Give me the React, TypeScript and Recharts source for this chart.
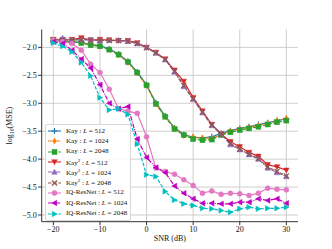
import React from "react";
import { LineChart, Line, XAxis, YAxis, CartesianGrid, Legend } from "recharts";

const snr = [-20, -18, -16, -14, -12, -10, -8, -6, -4, -2, 0, 2, 4, 6, 8, 10, 12, 14, 16, 18, 20, 22, 24, 26, 28, 30];

const kay512 = [-1.88, -1.89, -1.9, -1.91, -1.95, -1.97, -2.03, -2.12, -2.25, -2.44, -2.67, -2.99, -3.23, -3.44, -3.56, -3.61, -3.62, -3.6, -3.54, -3.49, -3.45, -3.42, -3.38, -3.35, -3.31, -3.28];
const kay1024 = [-1.87, -1.88, -1.9, -1.92, -1.95, -1.98, -2.04, -2.13, -2.27, -2.46, -2.68, -3.01, -3.24, -3.45, -3.58, -3.6, -3.62, -3.63, -3.56, -3.5, -3.46, -3.43, -3.4, -3.36, -3.31, -3.27];
const kay2048 = [-1.87, -1.89, -1.9, -1.92, -1.96, -1.98, -2.04, -2.13, -2.26, -2.45, -2.68, -3.01, -3.24, -3.46, -3.57, -3.64, -3.66, -3.65, -3.57, -3.52, -3.48, -3.45, -3.42, -3.38, -3.34, -3.31];

const kaySq512 = [-1.86, -1.87, -1.86, -1.83, -1.87, -1.86, -1.87, -1.88, -1.88, -1.92, -2.0, -2.09, -2.21, -2.41, -2.61, -2.9, -3.14, -3.38, -3.55, -3.69, -3.78, -3.88, -3.95, -4.1, -4.14, -4.2];
const kaySq1024 = [-1.87, -1.83, -1.87, -1.86, -1.86, -1.88, -1.87, -1.87, -1.89, -1.93, -2.0, -2.1, -2.22, -2.44, -2.7, -2.93, -3.17, -3.4, -3.55, -3.74, -3.83, -3.92, -4.0, -4.16, -4.24, -4.31];
const kaySq2048 = [-1.87, -1.86, -1.87, -1.86, -1.87, -1.87, -1.88, -1.88, -1.89, -1.93, -2.01, -2.1, -2.22, -2.43, -2.68, -2.92, -3.16, -3.39, -3.55, -3.72, -3.82, -3.91, -3.99, -4.14, -4.22, -4.3];

const iq512 = [-1.87, -1.9, -1.93, -2.05, -2.3, -2.45, -2.75, -3.1, -3.14, -3.18, -3.6, -4.16, -4.22, -4.27, -4.37, -4.47, -4.61, -4.57, -4.63, -4.61, -4.62, -4.65, -4.61, -4.52, -4.54, -4.55];
const iq1024 = [-1.9, -1.93, -2.05, -2.21, -2.37, -2.67, -3.0, -3.1, -3.06, -3.64, -3.97, -4.15, -4.24, -4.48, -4.61, -4.71, -4.79, -4.79, -4.8, -4.8, -4.77, -4.77, -4.71, -4.74, -4.71, -4.79];
const iq2048 = [-1.92, -1.98, -2.08, -2.27, -2.51, -2.9, -3.12, -3.1, -3.2, -3.73, -4.28, -4.31, -4.58, -4.73, -4.8, -4.83, -4.88, -4.89, -4.92, -4.95, -4.89, -4.86, -4.89, -4.88, -4.88, -4.86];

const xTicks = [-20, -10, 0, 10, 20, 30];
const yTicks = [-5, -4.5, -4, -3.5, -3, -2.5, -2];

const FONT = "'Liberation Serif', 'DejaVu Serif', serif";
const SOLID = undefined;
const DASHDOT = "4.5 1.2 0.9 1.2";
const DASHED = "3.6 1.6";

const series = [
  { key: "kay512", values: kay512, base: "Kay", sup: "", L: 512, color: "#1f77b4", shape: "plus", dash: SOLID },
  { key: "kay1024", values: kay1024, base: "Kay", sup: "", L: 1024, color: "#ff7f0e", shape: "diamond", dash: DASHDOT },
  { key: "kay2048", values: kay2048, base: "Kay", sup: "", L: 2048, color: "#2ca02c", shape: "square", dash: DASHED },
  { key: "kaySq512", values: kaySq512, base: "Kay", sup: "2", L: 512, color: "#d62728", shape: "down", dash: SOLID },
  { key: "kaySq1024", values: kaySq1024, base: "Kay", sup: "2", L: 1024, color: "#9467bd", shape: "up", dash: DASHDOT },
  { key: "kaySq2048", values: kaySq2048, base: "Kay", sup: "2", L: 2048, color: "#8c564b", shape: "x", dash: DASHED },
  { key: "iq512", values: iq512, base: "IQ-ResNet", sup: "", L: 512, color: "#e377c2", shape: "circle", dash: SOLID },
  { key: "iq1024", values: iq1024, base: "IQ-ResNet", sup: "", L: 1024, color: "#bf00bf", shape: "left", dash: DASHDOT },
  { key: "iq2048", values: iq2048, base: "IQ-ResNet", sup: "", L: 2048, color: "#00bfbf", shape: "right", dash: DASHED },
];

const data = snr.map((s, i) => {
  const row: Record<string, number> = { snr: s };
  series.forEach((sr) => {
    row[sr.key] = sr.values[i];
  });
  return row;
});

const Marker = ({ shape, cx, cy, color, size = 5 }: any) => {
  const r = size / 2;
  if (cx == null || cy == null) return null;
  switch (shape) {
    case "plus":
      return <path d={`M${cx - r * 1.2},${cy}H${cx + r * 1.2}M${cx},${cy - r * 1.2}V${cy + r * 1.2}`} stroke={color} strokeWidth={1.2} fill="none" />;
    case "diamond":
      return <polygon points={`${cx},${cy - r * 1.2} ${cx + r * 0.7},${cy} ${cx},${cy + r * 1.2} ${cx - r * 0.7},${cy}`} fill={color} stroke={color} strokeWidth={0.5} />;
    case "square":
      return <rect x={cx - r} y={cy - r} width={size} height={size} fill={color} stroke={color} strokeWidth={0.5} />;
    case "down":
      return <polygon points={`${cx - r * 1.1},${cy - r * 0.9} ${cx + r * 1.1},${cy - r * 0.9} ${cx},${cy + r * 1.1}`} fill={color} stroke={color} strokeWidth={0.5} />;
    case "up":
      return <polygon points={`${cx - r * 1.1},${cy + r * 0.9} ${cx + r * 1.1},${cy + r * 0.9} ${cx},${cy - r * 1.1}`} fill={color} stroke={color} strokeWidth={0.5} />;
    case "left":
      return <polygon points={`${cx + r * 0.9},${cy - r * 1.1} ${cx + r * 0.9},${cy + r * 1.1} ${cx - r * 1.1},${cy}`} fill={color} stroke={color} strokeWidth={0.5} />;
    case "right":
      return <polygon points={`${cx - r * 0.9},${cy - r * 1.1} ${cx - r * 0.9},${cy + r * 1.1} ${cx + r * 1.1},${cy}`} fill={color} stroke={color} strokeWidth={0.5} />;
    case "x":
      return <path d={`M${cx - r},${cy - r}L${cx + r},${cy + r}M${cx - r},${cy + r}L${cx + r},${cy - r}`} stroke={color} strokeWidth={1.2} fill="none" />;
    default:
      return <circle cx={cx} cy={cy} r={r} fill={color} stroke={color} strokeWidth={0.5} />;
  }
};

const fmt = (v: number) => v.toFixed(1).replace("-", "\u2212");

const LegendBox = () => (
  <div
    style={{
      border: "1px solid #d8d8d8",
      borderRadius: 2,
      background: "rgba(255,255,255,0.85)",
      padding: "1px 3px 1px 2px",
      fontFamily: FONT,
      fontSize: 7,
      color: "#111",
      lineHeight: 1,
    }}
  >
    {series.map((s) => (
      <div key={s.key} style={{ display: "flex", alignItems: "center", height: 10.3 }}>
        <svg width={13} height={8} style={{ flex: "none" }}>
          <line x1={0} y1={4} x2={13} y2={4} stroke={s.color} strokeWidth={1.1} strokeDasharray={s.dash} />
          <Marker shape={s.shape} cx={6.5} cy={4} color={s.color} />
        </svg>
        <span style={{ marginLeft: 5, whiteSpace: "nowrap" }}>
          {s.base}
          {s.sup ? <sup style={{ fontSize: 5, verticalAlign: "3px" }}>{s.sup}</sup> : null}
          {" : "}
          <i>L</i>
          {` = ${s.L}`}
        </span>
      </div>
    ))}
  </div>
);

const YLabel = () => (
  <text transform="translate(12,125.6) rotate(-90)" textAnchor="middle" fontSize={8} fontFamily={FONT} fill="#111">
    log
    <tspan fontSize={5.6} dy={1.7}>10</tspan>
    <tspan dy={-1.7}>(MSE)</tspan>
  </text>
);

const XLabel = () => (
  <text x={169.9} y={241} textAnchor="middle" fontSize={8} fontFamily={FONT} fill="#111">
    SNR (dB)
  </text>
);

const tickStyle = { fontSize: 8, fontFamily: FONT, fill: "#111" };

export default function App() {
  return (
    <div style={{ position: "fixed", left: 0, top: 0, background: "#fff" }}>
      <LineChart width={332} height={249} data={data} margin={{ top: 29.5, right: 34, left: 0, bottom: 0 }}>
        <CartesianGrid stroke="#c8c8c8" strokeWidth={0.9} horizontalValues={yTicks} verticalValues={xTicks} />
        <XAxis
          dataKey="snr"
          type="number"
          domain={[-22.5, 32.5]}
          ticks={xTicks}
          tickFormatter={(v: number) => String(v).replace("-", "\u2212")}
          height={27.3}
          tickSize={3.5}
          tickMargin={1}
          tick={tickStyle}
          stroke="#333"
          label={{ content: () => <XLabel /> }}
        />
        <XAxis xAxisId="top" orientation="top" dataKey="snr" type="number" domain={[-22.5, 32.5]} tick={false} tickLine={false} height={0} stroke="#333" />
        <YAxis
          type="number"
          domain={[-5.12, -1.68]}
          ticks={yTicks}
          tickFormatter={fmt}
          width={41.7}
          tickSize={3.5}
          tickMargin={1.5}
          tick={tickStyle}
          stroke="#333"
          label={{ content: () => <YLabel /> }}
        />
        <YAxis yAxisId="right" orientation="right" type="number" domain={[-5.12, -1.68]} tick={false} tickLine={false} width={0} stroke="#333" />
        {series.map((s) => (
          <Line
            key={s.key}
            dataKey={s.key}
            type="linear"
            stroke={s.color}
            strokeWidth={1.2}
            strokeDasharray={s.dash}
            isAnimationActive={false}
            dot={(p: any) => <Marker key={`${s.key}-${p.index}`} shape={s.shape} cx={p.cx} cy={p.cy} color={s.color} />}
            activeDot={false}
          />
        ))}
        <Legend
          layout="vertical"
          align="center"
          verticalAlign="middle"
          content={() => <LegendBox />}
          wrapperStyle={{ left: 45, top: 124, width: "auto", height: "auto" }}
        />
      </LineChart>
    </div>
  );
}
